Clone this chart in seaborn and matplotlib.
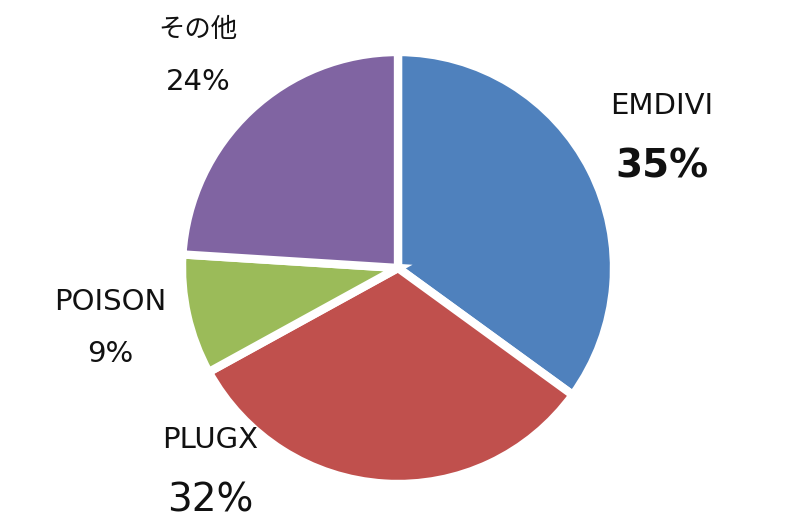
import matplotlib
matplotlib.use("Agg")
import matplotlib.pyplot as plt
import seaborn as sns

# Data
labels = ["EMDIVI", "PLUGX", "POISON", "その他"]
shares = [35, 32, 9, 24]
colors = ["#4F81BD", "#C0504D", "#9BBB59", "#8064A2"]

sns.set_theme(style="white")
plt.rcParams["font.family"] = ["DejaVu Sans", "Noto Sans CJK JP"]

W, H = 800, 527
fig = plt.figure(figsize=(W / 100, H / 100), dpi=100)
ax = fig.add_axes([0, 0, 1, 1])

ax.pie(shares, colors=colors, startangle=90, counterclock=False,
       wedgeprops=dict(edgecolor="white", linewidth=6))

# pie centre at (398, 268) px, radius ~215 px
scale = 216
cx, cy = 398, 268
ax.set_xlim(-cx / scale, (W - cx) / scale)
ax.set_ylim(-(H - cy) / scale, cy / scale)
ax.set_aspect("auto")
ax.axis("off")


def put(txt, x, y, size, weight="normal"):
    fig.text(x / W, 1 - y / H, txt, ha="center", va="baseline",
             fontsize=size, fontweight=weight, color="#111111")


# name labels and percentages (pixel baselines)
put(labels[0], 662, 114, 21)
put(f"{shares[0]}%", 662, 178, 28, "bold")
put(labels[1], 210, 448, 21)
put(f"{shares[1]}%", 210, 512, 28)
put(labels[2], 110, 310, 21)
put(f"{shares[2]}%", 110, 362, 21)
put(labels[3], 198, 37, 19)
put(f"{shares[3]}%", 198, 90, 21)

fig.savefig("out.png", dpi=100)
